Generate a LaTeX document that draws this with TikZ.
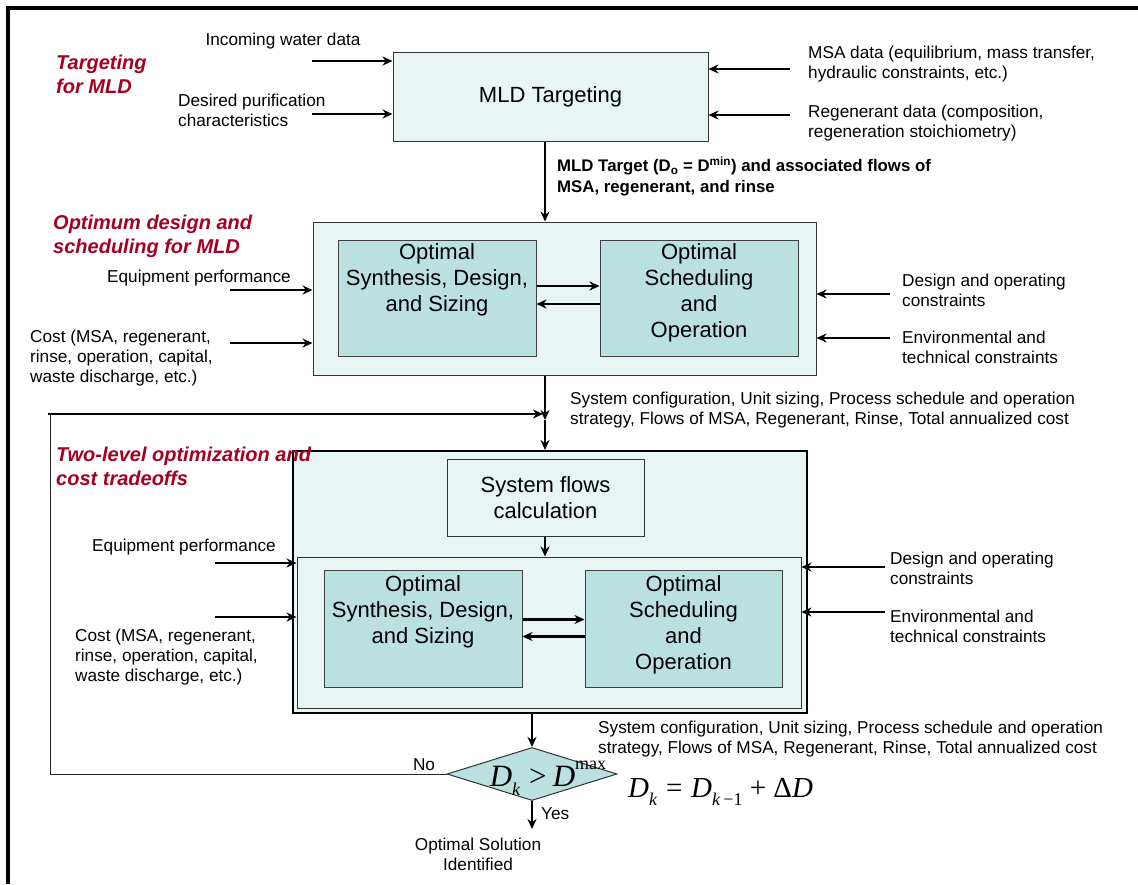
\documentclass[tikz,border=0pt]{standalone}
\usepackage{fontspec}
\setmainfont{Liberation Sans}
\newfontfamily\tms{Liberation Serif}
\usetikzlibrary{arrows.meta,shapes.geometric,calc}
\definecolor{paleteal}{HTML}{E8F5F5}
\definecolor{tealbox}{HTML}{BBE0E0}
\definecolor{stagered}{HTML}{A50021}

\tikzset{
  panel/.style={draw=black!80, fill=paleteal, line width=1pt, inner sep=0},
  taskbox/.style={draw=black!75, fill=tealbox, line width=1pt, inner sep=0},
  flowarr/.style={line width=2.5pt, -{Stealth[length=10pt,width=9pt]}},
  inarr/.style={line width=2.2pt, -{Stealth[length=10pt,width=9pt]}},
  lbl/.style={font=\fontsize{17.2}{20}\selectfont, inner sep=0, align=left},
  boldlbl/.style={font=\fontsize{16.8}{21}\selectfont\bfseries, inner sep=0, align=left},
  stage/.style={font=\fontsize{20}{24}\selectfont\bfseries\itshape, text=stagered, align=left, inner sep=0},
  tasktext/.style={font=\fontsize{22}{26}\selectfont, align=center, inner sep=0},
  eqn/.style={font=\tms\fontsize{29}{31}\selectfont, inner sep=0},
}
\newcommand{\sub}[1]{\raisebox{-0.3em}{\fontsize{18}{18}\selectfont #1}}
\newcommand{\supr}[1]{\raisebox{0.55em}{\fontsize{18}{18}\selectfont #1}}

\begin{document}
\begin{tikzpicture}[x=1pt,y=-1pt]
\useasboundingbox (0,0) rectangle (1138,884);

% page frame
\draw[line width=4pt] (8,884) -- (8,8) -- (1138,8);

% ---------- stage 1: targeting ----------
\node[stage, anchor=north west] (st1) at (56,55) {Targeting\\for MLD};
\node[panel, minimum width=315pt, minimum height=89pt] (t1) at (550.5,96.5) {};
\node[font=\fontsize{22}{26}\selectfont, inner sep=0] (t1t) at (t1.center) {MLD Targeting};

\node[lbl, anchor=north] (inw) at (283,33) {Incoming water data};
\node[lbl, anchor=north west] (pur) at (178,94) {Desired purification\\characteristics};
\node[lbl, anchor=north west] (msa) at (808,46) {MSA data (equilibrium, mass transfer,\\hydraulic constraints, etc.)};
\node[lbl, anchor=north west] (reg) at (808,105) {Regenerant data (composition,\\regeneration stoichiometry)};

\coordinate (i1) at (312,61);
\coordinate (i2) at (312,114);
\coordinate (i3) at (790,69);
\coordinate (i4) at (790,115);
\draw[inarr] (i1) -- (i1 -| t1.west);
\draw[inarr] (i2) -- (i2 -| t1.west);
\draw[inarr] (i3) -- (i3 -| t1.east);
\draw[inarr] (i4) -- (i4 -| t1.east);

% ---------- stage 2: design and scheduling ----------
\coordinate (spine) at (545,0);
\node[boldlbl, anchor=north west] (tgt) at (557,157)
  {MLD Target (D\textsubscript{o} = D\textsuperscript{min}) and associated flows of\\MSA, regenerant, and rinse};
\node[stage, anchor=north west] (st2) at (53,215) {Optimum design and\\scheduling for MLD};

\node[panel, minimum width=503pt, minimum height=153pt] (b2) at (564.5,298.5) {};
\node[taskbox, minimum width=198pt, minimum height=116pt] (s1) at (437,298) {};
\node[taskbox, minimum width=198pt, minimum height=116pt] (o1) at (699,298) {};
\node[tasktext, anchor=north] (s1t) at ([yshift=-4]s1.north) {Optimal\\Synthesis, Design,\\and Sizing};
\node[tasktext, anchor=north] (o1t) at ([yshift=-4]o1.north) {Optimal\\Scheduling\\and\\Operation};

\draw[flowarr] (t1.south -| spine) -- (b2.north -| spine);
\draw[flowarr] ($(s1.east)+(0,-12)$) -- ($(o1.west)+(0,-12)$);
\draw[flowarr] ($(o1.west)+(0,6)$) -- ($(s1.east)+(0,6)$);

\node[lbl, anchor=north west] (eq2) at (107,270) {Equipment performance};
\node[lbl, anchor=north west] (cost2) at (30,330) {Cost (MSA, regenerant,\\rinse, operation, capital,\\waste discharge, etc.)};
\node[lbl, anchor=north west] (des2) at (902,274) {Design and operating\\constraints};
\node[lbl, anchor=north west] (env2) at (902,331) {Environmental and\\technical constraints};

\coordinate (j1) at (230,290);
\coordinate (j2) at (230,343);
\coordinate (j3) at (890,294);
\coordinate (j4) at (890,338);
\draw[inarr] (j1) -- (j1 -| b2.west);
\draw[inarr] (j2) -- (j2 -| b2.west);
\draw[inarr] (j3) -- (j3 -| b2.east);
\draw[inarr] (j4) -- (j4 -| b2.east);

% ---------- stage 3: two-level optimization ----------
\node[lbl, anchor=north west] (res1) at (570,392)
  {System configuration, Unit sizing, Process schedule and operation\\strategy, Flows of MSA, Regenerant, Rinse, Total annualized cost};

\node[panel, draw=black, line width=2pt, minimum width=514pt, minimum height=262pt] (b3) at (550,582) {};
\node[stage, anchor=north west] (st3) at (56,447) {Two-level optimization and\\cost tradeoffs};
\node[panel, minimum width=197pt, minimum height=77pt] (sf) at (545.5,497.5) {};
\node[tasktext, align=center] (sft) at (sf.center) {System flows\\calculation};
\node[panel, minimum width=504pt, minimum height=151pt] (b3i) at (549,632.5) {};
\node[taskbox, minimum width=198pt, minimum height=117pt] (s2) at (423,628.5) {};
\node[taskbox, minimum width=197pt, minimum height=117pt] (o2) at (683.5,628.5) {};
\node[tasktext, anchor=north] (s2t) at ([yshift=-6]s2.north) {Optimal\\Synthesis, Design,\\and Sizing};
\node[tasktext, anchor=north] (o2t) at ([yshift=-6]o2.north) {Optimal\\Scheduling\\and\\Operation};

\draw[flowarr] (sf.south -| spine) -- (b3i.north -| spine);
\draw[flowarr] ($(s2.east)+(0,-9)$) -- ($(o2.west)+(0,-9)$);
\draw[flowarr] ($(o2.west)+(0,8)$) -- ($(s2.east)+(0,8)$);

% spine from stage 2 into stage 3, joined by the feedback loop
\coordinate (jn) at (545,414);
\draw[flowarr] (b2.south -| spine) -- ([yshift=-6]jn);
\draw[flowarr] ([yshift=-6]jn) -- (b3.north -| spine);

\node[lbl, anchor=north] (eq3) at (184,539) {Equipment performance};
\node[lbl, anchor=north west] (cost3) at (75,629) {Cost (MSA, regenerant,\\rinse, operation, capital,\\waste discharge, etc.)};
\node[lbl, anchor=north west] (des3) at (890,552) {Design and operating\\constraints};
\node[lbl, anchor=north west] (env3) at (890,610) {Environmental and\\technical constraints};

\coordinate (k1) at (215,563);
\coordinate (k2) at (215,617);
\coordinate (k3) at (885,567);
\coordinate (k4) at (885,612);
\draw[inarr] (k1) -- (k1 -| b3i.west);
\draw[inarr] (k2) -- (k2 -| b3i.west);
\draw[inarr] (k3) -- (k3 -| b3i.east);
\draw[inarr] (k4) -- (k4 -| b3i.east);

% ---------- convergence test ----------
\node[lbl, anchor=north west] (res2) at (598,721)
  {System configuration, Unit sizing, Process schedule and operation\\strategy, Flows of MSA, Regenerant, Rinse, Total annualized cost};

\node[diamond, draw=black!80, fill=tealbox, line width=1pt, inner sep=0, aspect=3.2,
      minimum width=170pt, minimum height=53pt] (dm) at (532,774) {};
\node[eqn, font=\tms\fontsize{31}{32}\selectfont] (dmt) at (548,778) {\textit{D}\sub{\textit{k}}\hspace{0.28em}>\hspace{0.2em}\textit{D}\supr{max}};
\node[eqn, anchor=base west] (upd) at (628,797)
  {\textit{D}\sub{\textit{k}}\hspace{0.3em}=\hspace{0.3em}\textit{D}\sub{\textit{k}\,−1}\hspace{0.25em}+\hspace{0.25em}Δ\textit{D}};

\draw[flowarr] (b3.south -| dm.north) -- (dm.north);
\coordinate (out) at (532,829);
\draw[flowarr] (dm.south) -- (out);
\node[lbl, anchor=west] (yes) at (541,814) {Yes};
\node[lbl, anchor=north, align=center] (sol) at (478,838) {Optimal Solution\\Identified};

% feedback loop back to the spine
\coordinate (fbl) at (50,774);
\coordinate (fbt) at (50,414);
\node[lbl] (no) at (424,765) {No};
\draw[line width=1pt, draw=black!85] (dm.west) -- (fbl) -- (fbt);
\draw[flowarr] (48,414) -- ([xshift=-2]jn);

\end{tikzpicture}
\end{document}
